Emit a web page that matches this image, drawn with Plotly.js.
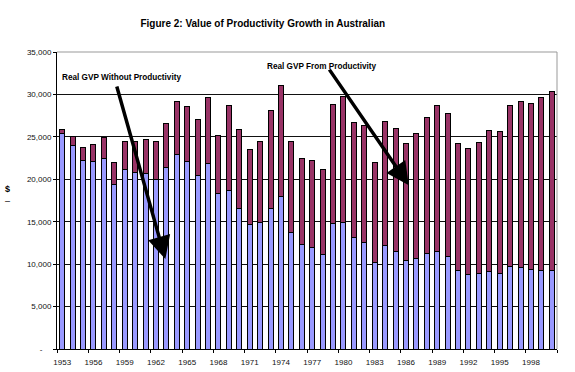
<!DOCTYPE html>
<html>
<head>
<meta charset="utf-8">
<script src="https://cdn.plot.ly/plotly-3.0.1.min.js"></script>
<style>html,body{margin:0;padding:0;background:#fff;}#chart{width:575px;height:372px;}</style>
</head>
<body>
<div id="chart"></div>
<script>
const years = [1953,1954,1955,1956,1957,1958,1959,1960,1961,1962,1963,1964,1965,1966,1967,1968,1969,1970,1971,1972,1973,1974,1975,1976,1977,1978,1979,1980,1981,1982,1983,1984,1985,1986,1987,1988,1989,1990,1991,1992,1993,1994,1995,1996,1997,1998,1999,2000];
const withoutProductivity = [25400,24000,22250,22100,22500,19400,21200,20800,20700,20000,21400,22900,22100,20450,21900,18350,18700,16500,14700,14900,16600,17950,13750,12350,11950,11100,14800,14900,13100,12550,10200,12250,11500,10450,10700,11200,11500,10850,9250,8800,8850,9100,8900,9700,9600,9350,9250,9250];
const fromProductivity = [500,1100,1450,2000,2400,2600,3200,3700,4000,4400,5200,6300,6500,6600,7700,6800,9950,9400,8850,9500,11450,13100,10650,10100,10250,10000,14050,14900,13600,13800,11800,14600,14500,13750,14700,16050,17200,16950,14950,14850,15450,16650,16750,19050,19550,19600,20350,21100];
const xTickYears = [1953,1956,1959,1962,1965,1968,1971,1974,1977,1980,1983,1986,1989,1992,1995,1998];
const yTickVals = [0,5000,10000,15000,20000,25000,30000,35000];
const yTickText = ["-\u00a0\u00a0\u00a0\u00a0","5,000","10,000","15,000","20,000","25,000","30,000","35,000"];
const titleText = "Figure 2: Value of Productivity Growth in Australian";
const labelWithout = "Real GVP Without Productivity";
const labelFrom = "Real GVP From Productivity";

const FONT = "Liberation Sans, Arial, Helvetica, sans-serif";
const boundaryTicks = xTickYears.map(y => y - 0.5).concat([2000.5]);

const traces = [
  {type:'bar', x: years, y: withoutProductivity, name: labelWithout,
   marker:{color:'#9999FF', line:{color:'#000', width:1}}},
  {type:'bar', x: years, y: fromProductivity, name: labelFrom,
   marker:{color:'#993366', line:{color:'#000', width:1}}},
  {type:'scatter', x:[1953], y:[0], xaxis:'x2', mode:'markers', marker:{opacity:0}, hoverinfo:'skip', showlegend:false}
];

const layout = {
  width:575, height:372,
  margin:{l:57, r:18, t:52, b:23},
  paper_bgcolor:'#fff', plot_bgcolor:'#fff',
  showlegend:false,
  barmode:'stack',
  bargap:0.52,
  font:{family:FONT, color:'#000', size:8},
  title:{text:'<b>'+titleText+'</b>', font:{family:FONT, size:10, color:'#000'}, x:0.457, xanchor:'center', y:0.938, yanchor:'middle'},
  xaxis:{range:[1952.5,2000.5], tickmode:'array', tickvals:boundaryTicks, showticklabels:false,
         ticks:'outside', ticklen:3, tickcolor:'#000', showgrid:false, zeroline:false,
         showline:true, linecolor:'#000', linewidth:1},
  xaxis2:{overlaying:'x', range:[1952.5,2000.5], tickmode:'array', tickvals:xTickYears,
          ticktext:xTickYears.map(String), ticks:'', showgrid:false, zeroline:false, showline:false,
          side:'bottom', anchor:'y', ticklabelstandoff:7, tickfont:{family:FONT, size:8, color:'#111'}},
  yaxis:{range:[0,35000], tickmode:'array', tickvals:yTickVals, ticktext:yTickText,
         ticks:'outside', ticklen:3, tickcolor:'#000', showgrid:true, gridcolor:'#111', gridwidth:1,
         zeroline:false, showline:true, linecolor:'#000', linewidth:1,
         tickfont:{family:FONT, size:8, color:'#111'}},
  shapes:[
    {type:'line', xref:'paper', yref:'paper', x0:0, x1:1, y0:1, y1:1, line:{color:'#999', width:1}},
    {type:'line', xref:'paper', yref:'paper', x0:1, x1:1, y0:0, y1:1, line:{color:'#999', width:1}}
  ],
  annotations:[
    {xref:'x', yref:'y', x:1952.76, y:32050, text:'<b>'+labelWithout+'</b>', showarrow:false,
     xanchor:'left', yanchor:'middle', font:{family:FONT, size:8.2, color:'#000'}},
    {xref:'x', yref:'y', x:1972.5, y:33350, text:'<b>'+labelFrom+'</b>', showarrow:false,
     xanchor:'left', yanchor:'middle', font:{family:FONT, size:8.2, color:'#000'}},
    {xref:'x', yref:'y', x:1962.9, y:10600, axref:'x', ayref:'y', ax:1958.2, ay:31100, text:'',
     showarrow:true, arrowhead:2, arrowsize:1.3, arrowwidth:3.5, arrowcolor:'#000'},
    {xref:'x', yref:'y', x:1986.27, y:19300, axref:'x', ayref:'y', ax:1978.55, ay:33100, text:'',
     showarrow:true, arrowhead:2, arrowsize:1.3, arrowwidth:3.5, arrowcolor:'#000'},
    {xref:'paper', yref:'paper', x:-0.1, y:0.52, text:'<b>$</b><br>–', showarrow:false,
     xanchor:'center', yanchor:'middle', font:{family:FONT, size:9, color:'#000'}}
  ]
};

Plotly.newPlot('chart', traces, layout, {staticPlot:true, displayModeBar:false});
</script>
</body>
</html>
